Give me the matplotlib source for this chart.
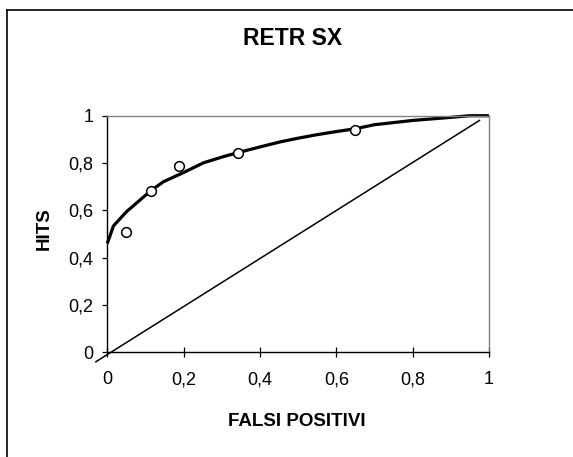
import matplotlib.pyplot as plt
from matplotlib.lines import Line2D
from matplotlib.ticker import FuncFormatter

plt.rcParams['font.family'] = ['Liberation Sans', 'DejaVu Sans']

# curva ROC stimata
curva_x = [0, 0.016, 0.05, 0.114, 0.147, 0.2, 0.252, 0.304, 0.342, 0.4, 0.452, 0.5, 0.55, 0.6, 0.65,
           0.7, 0.8, 0.9, 0.95, 1.0]
curva_y = [0.46, 0.534, 0.594, 0.683, 0.721, 0.76, 0.801, 0.827, 0.844, 0.868, 0.889, 0.905, 0.92,
           0.933, 0.945, 0.962, 0.98, 0.993, 1.0, 1.0]

# punti osservati
punti_x = [0.049, 0.114, 0.189, 0.342, 0.650]
punti_y = [0.507, 0.683, 0.787, 0.844, 0.938]

# diagonale
diag_x = [-0.03, 0.975]
diag_y = [-0.04, 0.98]

ticks = [0, 0.2, 0.4, 0.6, 0.8, 1]

fig = plt.figure(figsize=(5.73, 4.57), dpi=100)
ax = fig.add_axes([0.1873, 0.2291, 0.6661, 0.5177])

ax.plot(diag_x, diag_y, color='black', linewidth=1.1, clip_on=False)
ax.plot(curva_x, curva_y, color='black', linewidth=2.3, solid_capstyle='butt', clip_on=False)
ax.plot(punti_x, punti_y, linestyle='none', marker='o', markersize=7,
        markerfacecolor='white', markeredgecolor='black', markeredgewidth=1.1, clip_on=False)

ax.set_xlim(0, 1)
ax.set_ylim(0, 1)
ax.set_xticks(ticks)
ax.set_yticks(ticks)
virgola = FuncFormatter(lambda v, p: ('%g' % v).replace('.', ','))
ax.xaxis.set_major_formatter(virgola)
ax.yaxis.set_major_formatter(virgola)
ax.tick_params(axis='x', direction='inout', length=7.2, width=0.9, pad=10, labelsize=13)
ax.tick_params(axis='y', direction='out', length=3.6, width=0.9, pad=6.5, labelsize=13)

for s in ['left', 'bottom']:
    ax.spines[s].set_color('black')
    ax.spines[s].set_linewidth(1.0)
for s in ['top', 'right']:
    ax.spines[s].set_color('#808080')
    ax.spines[s].set_linewidth(1.0)

fig.text(0.511, 0.9147, 'RETR SX', ha='center', va='center', fontsize=16.5, fontweight='bold')
fig.text(0.5178, 0.0773, 'FALSI POSITIVI', ha='center', va='center', fontsize=13.5, fontweight='bold')
fig.text(0.0768, 0.499, 'HITS', ha='center', va='center', rotation=90, fontsize=13.5, fontweight='bold')

# cornice esterna (solo lati superiore e sinistro visibili)
fig.add_artist(Line2D([0.0122, 1.0], [0.978, 0.978], color='black', linewidth=1.2, transform=fig.transFigure))
fig.add_artist(Line2D([0.0122, 0.0122], [0.0, 0.978], color='black', linewidth=1.2, transform=fig.transFigure))

fig.savefig('out.png', dpi=100)
